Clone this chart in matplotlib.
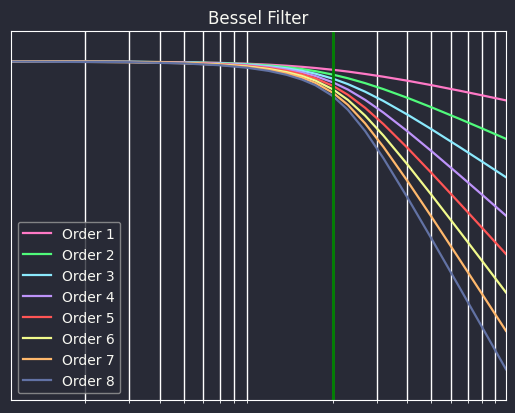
import matplotlib
matplotlib.use("Agg")
import matplotlib.pyplot as plt

# frequency axis (cutoff at 20)
freq = [1, 3, 5, 7, 9, 11, 13, 15, 17, 20, 23, 27, 32, 40, 50, 65, 80, 100]
cutoff = 20

# magnitude response in dB
order1 = [-0.01, -0.10, -0.26, -0.50, -0.80, -1.15, -1.53, -1.94, -2.36, -3.01, -3.66, -4.53, -5.53, -6.99, -8.60, -10.63, -12.30, -14.15]
order2 = [-0.01, -0.10, -0.28, -0.56, -0.95, -1.44, -2.04, -2.74, -3.51, -4.77, -6.10, -7.88, -10.05, -13.22, -16.66, -20.90, -24.36, -28.14]
order3 = [-0.01, -0.12, -0.33, -0.67, -1.12, -1.72, -2.47, -3.37, -4.43, -6.24, -8.23, -10.99, -14.37, -19.33, -24.64, -31.15, -36.40, -42.12]
order4 = [-0.02, -0.14, -0.40, -0.79, -1.33, -2.03, -2.91, -3.99, -5.28, -7.58, -10.21, -13.96, -18.60, -25.39, -32.61, -41.39, -48.44, -56.09]
order5 = [-0.02, -0.17, -0.47, -0.93, -1.56, -2.36, -3.37, -4.61, -6.11, -8.86, -12.12, -16.86, -22.79, -31.43, -40.57, -51.62, -60.48, -70.07]
order6 = [-0.02, -0.19, -0.54, -1.07, -1.79, -2.71, -3.85, -5.25, -6.95, -10.12, -13.97, -19.71, -26.95, -37.47, -48.53, -61.86, -72.52, -84.05]
order7 = [-0.02, -0.22, -0.61, -1.21, -2.02, -3.06, -4.34, -5.90, -7.80, -11.36, -15.79, -22.53, -31.09, -43.50, -56.49, -72.10, -84.56, -98.03]
order8 = [-0.03, -0.25, -0.69, -1.36, -2.26, -3.41, -4.84, -6.57, -8.64, -12.59, -17.58, -25.31, -35.21, -49.52, -64.45, -82.33, -96.60, -112.01]

responses = [order1, order2, order3, order4, order5, order6, order7, order8]
labels = ["Order %d" % (i + 1) for i in range(len(responses))]

bg = "#282a36"
fg = "#f8f8f2"
colors = ["#ff79c6", "#50fa7b", "#8be9fd", "#bd93f9",
          "#ff5555", "#f1fa8c", "#ffb86c", "#6272a4"]

fig = plt.figure(figsize=(5.15, 4.14), dpi=100, facecolor=bg)
ax = fig.add_axes([0.0208, 0.0307, 0.9617, 0.8913], facecolor=bg)

for resp, lab, col in zip(responses, labels, colors):
    ax.plot(freq, resp, color=col, lw=1.6, label=lab)

ax.axvline(cutoff, color="green", lw=2)

ax.set_xscale("log")
ax.set_xlim(1, 100)
ax.set_ylim(-123.3, 11.0)
ax.set_xticks([])
ax.set_yticks([])
ax.tick_params(axis="x", which="minor", colors="white", length=2)
ax.grid(True, which="both", axis="x", color="white", lw=1)
for sp in ax.spines.values():
    sp.set_color("white")

ax.set_title("Bessel Filter", color=fg, fontsize=12)

leg = ax.legend(loc="lower left", facecolor=bg, edgecolor="#9a9a9a",
                framealpha=0.8, fontsize=10)
for t in leg.get_texts():
    t.set_color(fg)

fig.savefig("out.png", dpi=100, facecolor=bg)
